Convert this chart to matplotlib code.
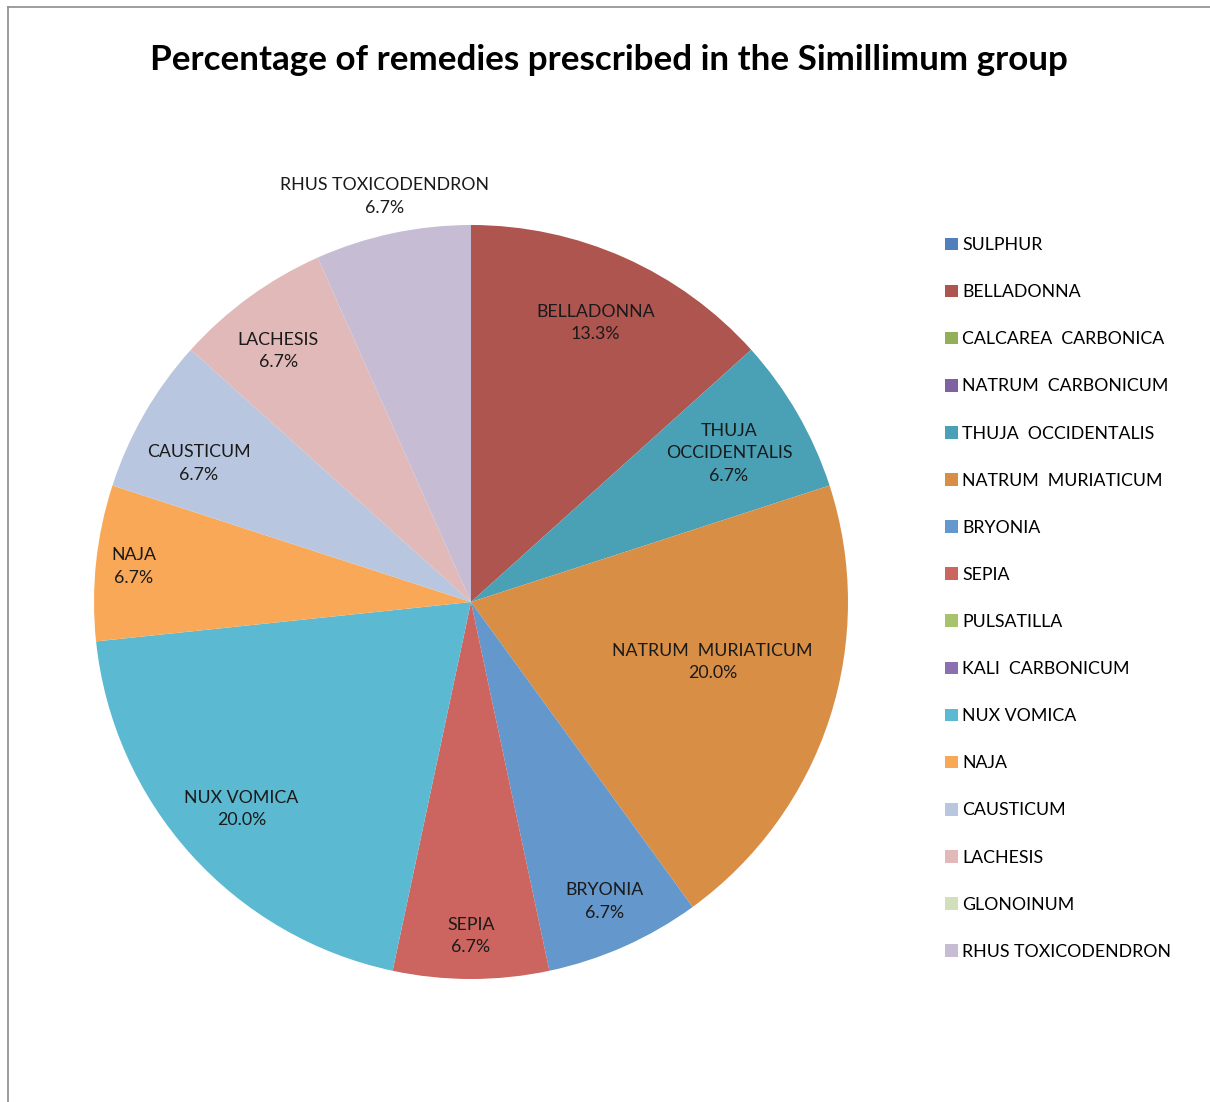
import numpy as np
import matplotlib
matplotlib.use("Agg")
import matplotlib.pyplot as plt
from matplotlib.lines import Line2D

plt.rcParams['font.family'] = ['Lato', 'DejaVu Sans']

# Data (number of prescriptions, out of 15)
remedies = ["SULPHUR", "BELLADONNA", "CALCAREA  CARBONICA", "NATRUM  CARBONICUM",
            "THUJA  OCCIDENTALIS", "NATRUM  MURIATICUM", "BRYONIA", "SEPIA",
            "PULSATILLA", "KALI  CARBONICUM", "NUX VOMICA", "NAJA", "CAUSTICUM",
            "LACHESIS", "GLONOINUM", "RHUS TOXICODENDRON"]
counts = [0, 2, 0, 0, 1, 3, 1, 1, 0, 0, 3, 1, 1, 1, 0, 1]
pie_labels = ["SULPHUR", "BELLADONNA", "CALCAREA  CARBONICA", "NATRUM  CARBONICUM",
              "THUJA\nOCCIDENTALIS", "NATRUM  MURIATICUM", "BRYONIA", "SEPIA",
              "PULSATILLA", "KALI  CARBONICUM", "NUX VOMICA", "NAJA", "CAUSTICUM",
              "LACHESIS", "GLONOINUM", "RHUS TOXICODENDRON"]

colors = ["#4F7FBD", "#AE554F", "#94AF5A", "#7E62A1", "#4AA1B5", "#D98E45",
          "#6497CB", "#CC645F", "#A7C36B", "#8C6FAE", "#5BB9D2", "#F9A857",
          "#B9C6E0", "#E0B9B8", "#D2DFBB", "#C6BDD5"]
# radial position of each data label (fraction of radius) and angle shift (deg)
label_r = [0.8, 0.81, 0.8, 0.8, 0.79, 0.66, 0.87, 0.886,
           0.8, 0.8, 0.82, 0.9, 0.81, 0.84, 0.8, 1.1]
label_shift = [0, 0, 0, 0, 0, 4, 0, 0, 0, 0, 0, 0, 3, 1.5, 0, 0]

W, H = 1210, 1102
fig = plt.figure(figsize=(W / 100, H / 100), dpi=100)

cx, cy, R = 471, 602, 377
ax = fig.add_axes([(cx - R) / W, (H - cy - R) / H, 2 * R / W, 2 * R / H])

wedges, _ = ax.pie(counts, colors=colors, startangle=90, counterclock=False,
                   radius=1, wedgeprops=dict(linewidth=0))
ax.set_xlim(-1, 1)
ax.set_ylim(-1, 1)
ax.set_aspect('equal')
ax.axis('off')

total = sum(counts)
for w, n, lab, r, sh in zip(wedges, counts, pie_labels, label_r, label_shift):
    if n == 0:
        continue
    ang = np.deg2rad((w.theta1 + w.theta2) / 2 + sh)
    pct = 100 * n / total
    ax.text(r * np.cos(ang), r * np.sin(ang), f"{lab}\n{pct:.1f}%",
            ha='center', va='center', fontsize=12.8, color='#1a1a1a',
            linespacing=1.5, clip_on=False)

fig.text(609 / W, 1 - 60 / H, "Percentage of remedies prescribed in the Simillimum group",
         ha='center', va='center', fontsize=25.2, fontweight='bold')

leg = fig.legend(wedges, remedies, loc='upper left',
                 bbox_to_anchor=(938 / W, 1 - 230 / H), frameon=False,
                 fontsize=12.8, handlelength=0.72, handleheight=0.72,
                 handletextpad=0.25, labelspacing=1.75, borderaxespad=0)

# chart border (gray, top and left visible)
fig.add_artist(Line2D([8 / W, 1.0], [1 - 7 / H, 1 - 7 / H], color='#8c8c8c', lw=1.2))
fig.add_artist(Line2D([8 / W, 8 / W], [0.0, 1 - 7 / H], color='#8c8c8c', lw=1.2))

fig.savefig("out.png", dpi=100, facecolor='white')
